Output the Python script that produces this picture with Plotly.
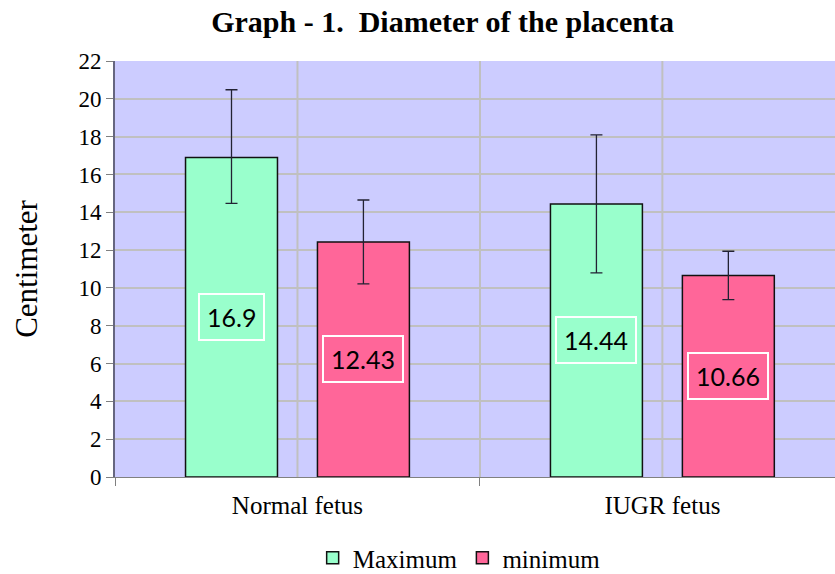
import plotly.graph_objects as go

categories = ["Normal fetus", "IUGR fetus"]
maximum = [16.9, 14.44]
minimum = [12.43, 10.66]
max_err_plus = [3.58, 3.65]
max_err_minus = [2.43, 3.64]
min_err_plus = [2.22, 1.28]
min_err_minus = [2.22, 1.28]
y_ticks = list(range(0, 23, 2))

serif = "Liberation Serif, Times New Roman, serif"
label_font = "Lato, Carlito, Calibri, sans-serif"

fig = go.Figure()
fig.add_trace(go.Bar(
    name="Maximum", x=categories, y=maximum,
    marker=dict(color="#99FFCC", line=dict(color="#111111", width=1.5)),
    error_y=dict(type="data", symmetric=False, array=max_err_plus, arrayminus=max_err_minus,
                 color="#222233", thickness=1.3, width=6),
))
fig.add_trace(go.Bar(
    name="minimum", x=categories, y=minimum,
    marker=dict(color="#FF6699", line=dict(color="#111111", width=1.5)),
    error_y=dict(type="data", symmetric=False, array=min_err_plus, arrayminus=min_err_minus,
                 color="#222233", thickness=1.3, width=6),
))

off = 66 / 365
for i, cat in enumerate(categories):
    for val, dx in ((maximum[i], -off), (minimum[i], off)):
        fig.add_annotation(x=i + dx, y=val / 2, xref="x", yref="y", text=f"{val:g}",
                           showarrow=False, font=dict(family=label_font, size=25, color="#000000"),
                           bordercolor="#FFFFFF", borderwidth=2, borderpad=7)

shapes = []
for xv in (0, 1):
    shapes.append(dict(type="line", xref="x", yref="paper", x0=xv, x1=xv, y0=0, y1=1,
                       line=dict(color="#C0C0C0", width=2), layer="below"))

fig.update_layout(
    width=835, height=574,
    margin=dict(l=115, r=0, t=61, b=97, autoexpand=False),
    paper_bgcolor="#FFFFFF", plot_bgcolor="#CCCCFF",
    title=dict(text="<b>Graph - 1.  Diameter of the placenta</b>", x=0.53, xanchor="center",
               y=0.963, yanchor="middle", font=dict(family=serif, size=30, color="#000000")),
    barmode="group", bargap=0.277, bargroupgap=0.303,
    showlegend=True,
    legend=dict(orientation="h", x=0.478, xanchor="center", y=-0.195, yanchor="middle",
                font=dict(family=serif, size=25, color="#000000"), itemwidth=30,
                tracegroupgap=0),
    shapes=shapes,
    xaxis=dict(range=[-0.5, 1.473], tickson="boundaries", ticks="outside", ticklen=8,
               tickcolor="#808080", showgrid=True, gridcolor="#C0C0C0", gridwidth=2,
               showline=True, linecolor="#808080", linewidth=1, automargin=False,
               ticklabelstandoff=6,
               tickfont=dict(family=serif, size=25, color="#000000")),
    yaxis=dict(range=[0, 22], tickvals=y_ticks, ticks="outside", ticklen=7,
               tickcolor="#808080", showgrid=True, gridcolor="#C0C0C0", gridwidth=2,
               showline=True, linecolor="#666680", linewidth=2, zeroline=False,
               automargin=False,
               tickfont=dict(family=serif, size=23, color="#000000"),
               title=dict(text="Centimeter", font=dict(family=serif, size=31, color="#000000"),
                          standoff=32)),
)

fig.write_html("out.html", config={"displayModeBar": False},
               post_script="document.body.style.margin='0px';")
